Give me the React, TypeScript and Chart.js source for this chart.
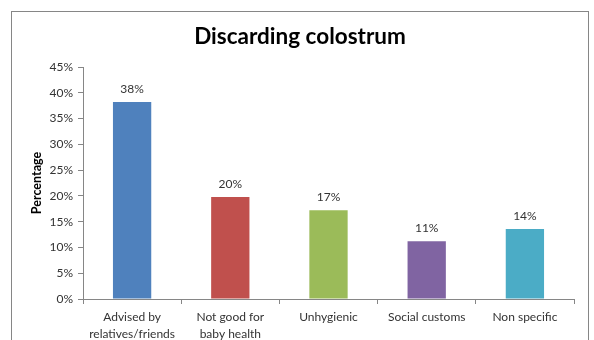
import React, { useEffect, useRef } from "react";
import { Chart, registerables } from "chart.js";

Chart.register(...registerables);

const categories: (string | string[])[] = [
  ["Advised by", "relatives/friends"],
  ["Not good for", "baby health"],
  "Unhygienic",
  "Social customs",
  "Non specific",
];
const percentages = [38.2, 19.8, 17.2, 11.2, 13.6];
const barColors = ["#4F81BD", "#C0504D", "#9BBB59", "#8064A2", "#4BACC6"];
const yTickMax = 45;
const yTickStep = 5;

const FONT = "Lato, 'Open Sans', sans-serif";
const AXIS_GRAY = "#868686";
const TEXT_GRAY = "#333333";

// White background plus the thin grey frame around the chart.
const framePlugin = {
  id: "frame",
  beforeDraw(chart: Chart) {
    const ctx = chart.ctx;
    ctx.save();
    ctx.fillStyle = "#ffffff";
    ctx.fillRect(0, 0, chart.width, chart.height);
    ctx.strokeStyle = AXIS_GRAY;
    ctx.lineWidth = 1;
    ctx.strokeRect(11.5, 11.5, 577, chart.height);
    ctx.restore();
  },
};

// Percentage labels above each bar, taken from the bar's own value.
const valueLabelPlugin = {
  id: "valueLabels",
  afterDatasetsDraw(chart: Chart) {
    const ctx = chart.ctx;
    const meta = chart.getDatasetMeta(0);
    const values = chart.data.datasets[0].data as number[];
    ctx.save();
    ctx.font = `12px ${FONT}`;
    ctx.fillStyle = TEXT_GRAY;
    ctx.textAlign = "center";
    ctx.textBaseline = "middle";
    meta.data.forEach((bar: any, i: number) => {
      ctx.fillText(`${Math.round(values[i])}%`, bar.x, bar.y - 13);
    });
    ctx.restore();
  },
};

export default function App() {
  const canvasRef = useRef<HTMLCanvasElement | null>(null);

  useEffect(() => {
    if (!canvasRef.current) return;
    const chart = new Chart(canvasRef.current, {
      type: "bar",
      data: {
        labels: categories,
        datasets: [
          {
            data: percentages,
            backgroundColor: barColors,
            borderWidth: 0,
            categoryPercentage: 1,
            barPercentage: 0.39,
          },
        ],
      },
      options: {
        responsive: false,
        animation: false,
        layout: { padding: { left: 26, right: 20, top: 0, bottom: 0 } },
        plugins: {
          legend: { display: false },
          tooltip: { enabled: false },
          title: {
            display: true,
            text: "Discarding colostrum",
            color: "#000000",
            font: { family: FONT, size: 22.5, weight: "bold", lineHeight: 1.2 },
            padding: { top: 23, bottom: 17 },
          },
        },
        scales: {
          x: {
            grid: {
              display: true,
              drawOnChartArea: false,
              drawTicks: true,
              tickLength: 5,
              color: AXIS_GRAY,
              offset: true,
            },
            border: { display: true, color: AXIS_GRAY },
            ticks: {
              color: TEXT_GRAY,
              font: { family: FONT, size: 12, lineHeight: 1.4 },
              padding: 5,
              maxRotation: 0,
              autoSkip: false,
            },
            afterFit(scale: any) {
              scale.height = 41;
            },
          },
          y: {
            min: 0,
            max: yTickMax,
            ticks: {
              stepSize: yTickStep,
              color: TEXT_GRAY,
              font: { family: FONT, size: 12 },
              padding: 5,
              callback: (v: any) => `${v}%`,
            },
            grid: {
              display: true,
              drawOnChartArea: false,
              drawTicks: true,
              tickLength: 5,
              color: AXIS_GRAY,
            },
            border: { display: true, color: AXIS_GRAY },
            title: {
              display: true,
              text: "Percentage",
              color: "#000000",
              font: { family: FONT, size: 12.5, weight: "bold", lineHeight: 1.2 },
              padding: { top: 3.5, bottom: 0 },
            },
            afterFit(scale: any) {
              scale.width = 57;
            },
          },
        },
      },
      plugins: [framePlugin, valueLabelPlugin],
    });
    return () => chart.destroy();
  }, []);

  return (
    <div
      style={{
        position: "absolute",
        left: 0,
        top: 0,
        width: 594,
        height: 340,
        background: "#ffffff",
      }}
    >
      <canvas ref={canvasRef} width={594} height={340} />
    </div>
  );
}
